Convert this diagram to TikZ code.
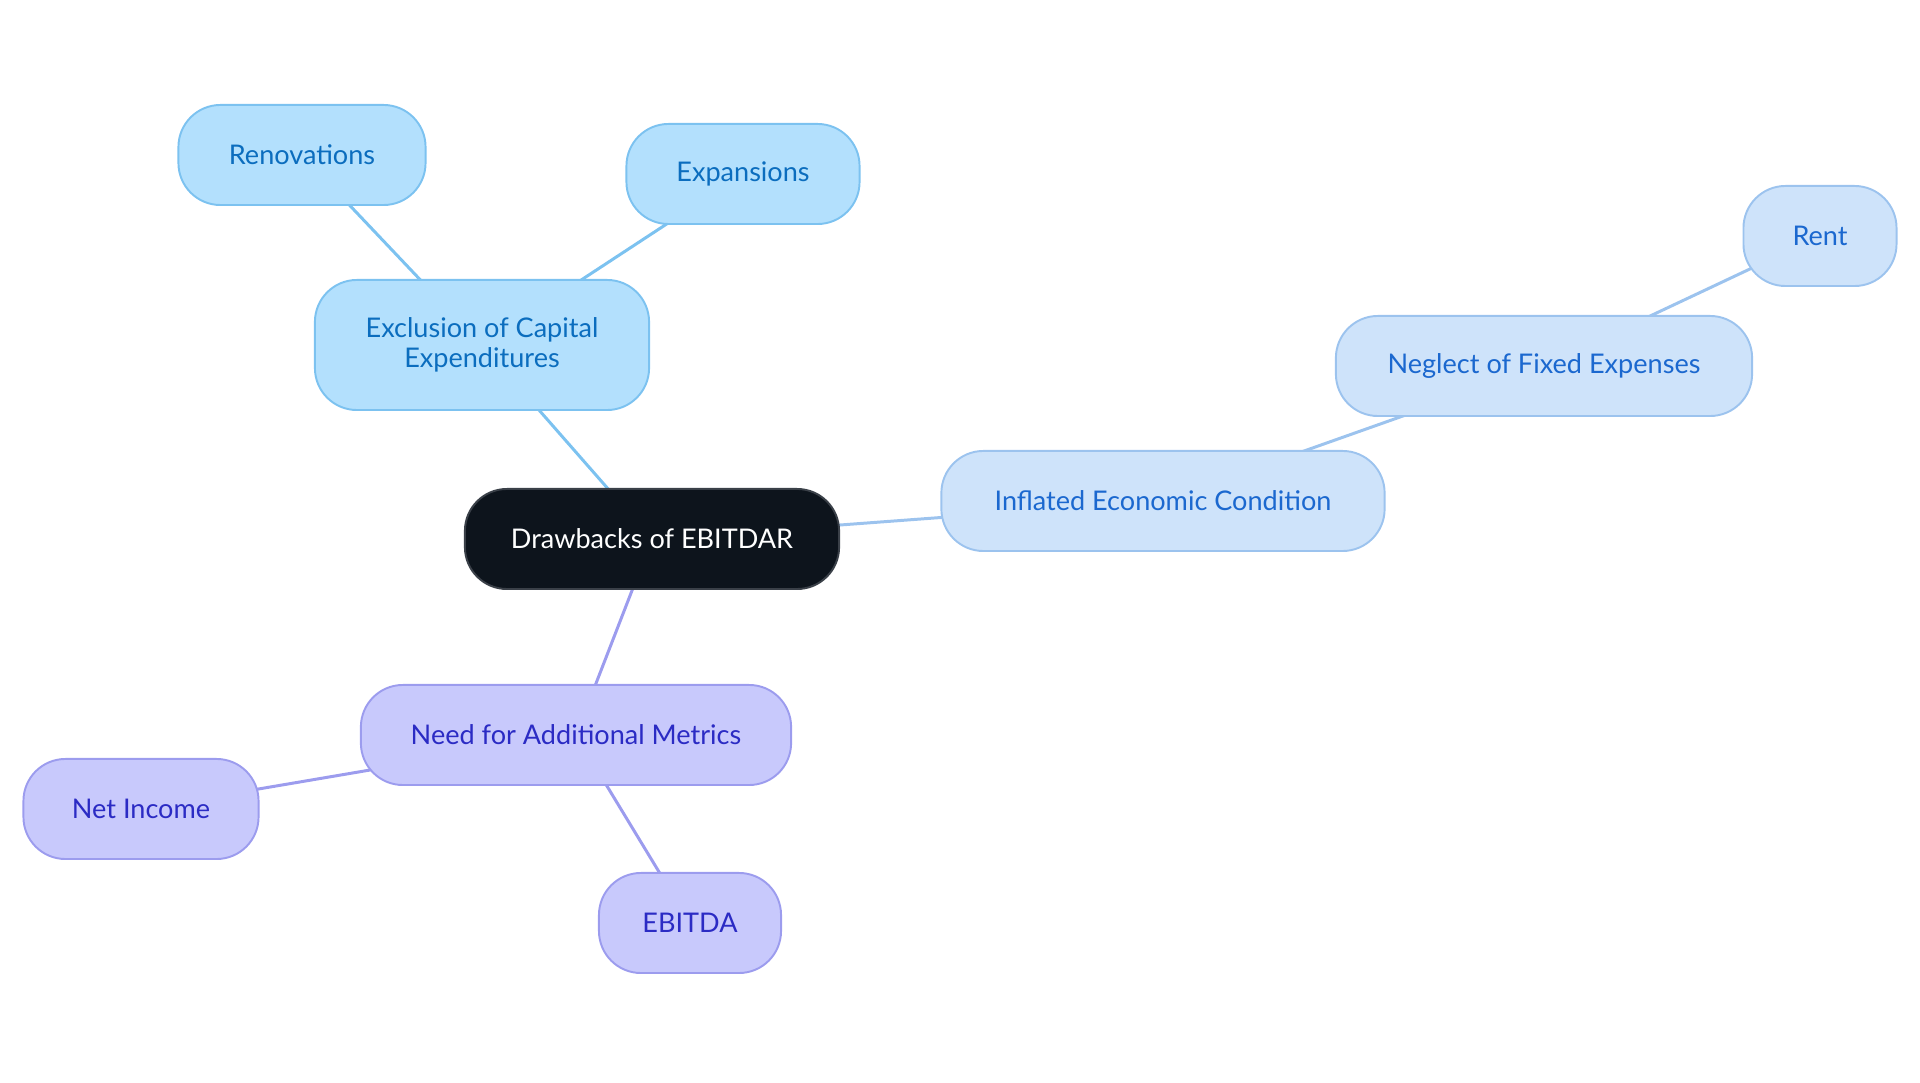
\documentclass[tikz,border=0pt]{standalone}
\usepackage{fontspec}
\setmainfont{Lato}
\usetikzlibrary{backgrounds}
\definecolor{rootfill}{HTML}{0D141C}
\definecolor{rootline}{HTML}{3A4048}
\definecolor{skyfill}{HTML}{B3E0FD}
\definecolor{skyline}{HTML}{7CC2F0}
\definecolor{skytext}{HTML}{0B6DBE}
\definecolor{paleFill}{HTML}{CEE3FA}
\definecolor{paleline}{HTML}{9CC3EE}
\definecolor{paletext}{HTML}{1B68CF}
\definecolor{lilacfill}{HTML}{C8C9FC}
\definecolor{lilacline}{HTML}{9C9CEE}
\definecolor{lilactext}{HTML}{2B2BC4}
\begin{document}
\begin{tikzpicture}[x=0.01cm, y=-0.01cm,
	box/.style={rounded corners=0.42cm, line width=0.55pt, minimum height=1cm, align=center, font=\fontsize{7.7}{8.4}\selectfont, inner sep=0pt},
	rootbox/.style={box, fill=rootfill, draw=rootline, text=white},
	skybox/.style={box, fill=skyfill, draw=skyline, text=skytext},
	palebox/.style={box, fill=paleFill, draw=paleline, text=paletext},
	lilacbox/.style={box, fill=lilacfill, draw=lilacline, text=lilactext},
	link/.style={line width=0.85pt}]
		\useasboundingbox (0,0) rectangle (1920,1083);
		% nodes
		\node[rootbox, minimum width=3.74cm] (root) at (652,539) {Drawbacks of EBITDAR};
		\node[skybox, minimum width=3.34cm, minimum height=1.3cm] (capex) at (482,345) {Exclusion of Capital\\Expenditures};
		\node[skybox, minimum width=2.47cm] (renov) at (302,155) {Renovations};
		\node[skybox, minimum width=2.33cm] (expan) at (743,174) {Expansions};
		\node[palebox, minimum width=4.43cm] (inflated) at (1163,501) {Inflated Economic Condition};
		\node[palebox, minimum width=4.16cm] (neglect) at (1544,366) {Neglect of Fixed Expenses};
		\node[palebox, minimum width=1.53cm] (rent) at (1820,236) {Rent};
		\node[lilacbox, minimum width=4.30cm] (metrics) at (576,735) {Need for Additional Metrics};
		\node[lilacbox, minimum width=2.35cm] (netinc) at (141,809) {Net Income};
		\node[lilacbox, minimum width=1.82cm] (ebitda) at (690,923) {EBITDA};
		% links, drawn behind the boxes
		\begin{scope}[on background layer]
		\draw[link, skyline] (root.center) -- (capex.center);
		\draw[link, skyline] (capex.center) -- (renov.center);
		\draw[link, skyline] (capex.center) -- (expan.center);
		\draw[link, paleline] (root.center) -- (inflated.center);
		\draw[link, paleline] (inflated.center) -- (neglect.center);
		\draw[link, paleline] (neglect.center) -- (rent.center);
		\draw[link, lilacline] (root.center) -- (metrics.center);
		\draw[link, lilacline] (metrics.center) -- (netinc.center);
		\draw[link, lilacline] (metrics.center) -- (ebitda.center);
		\end{scope}
\end{tikzpicture}
\end{document}
